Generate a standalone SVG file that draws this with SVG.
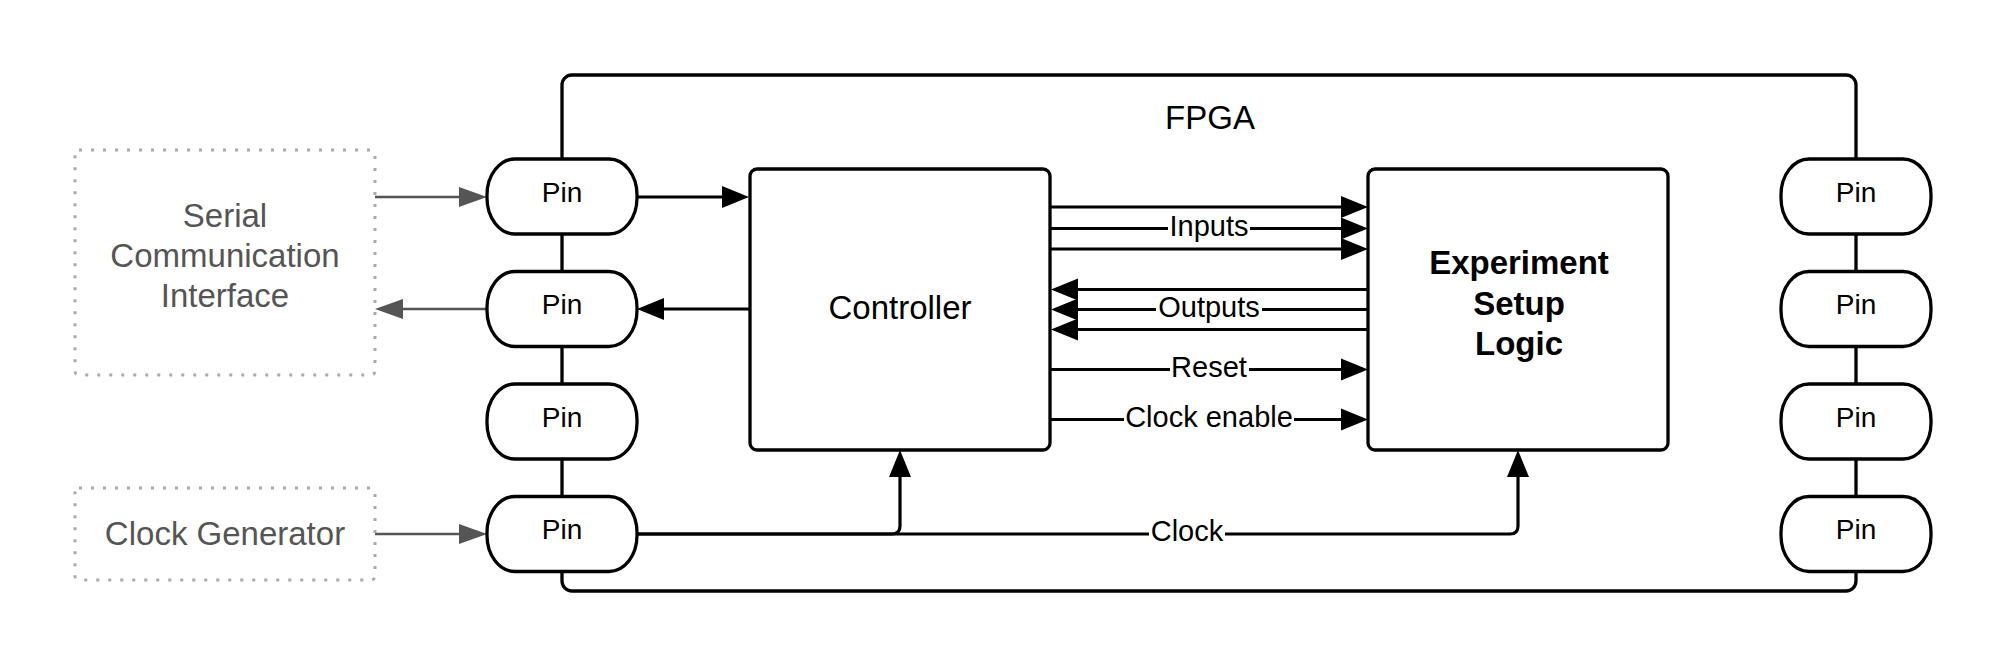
<svg xmlns="http://www.w3.org/2000/svg" width="2006" height="666" viewBox="0 0 2006 666">
<style>
.t{font-family:"Liberation Sans",Arial,sans-serif;text-anchor:middle}
.big{font-size:33px;fill:#000}
.gt{font-size:33px;fill:#555}
.pt{font-size:28px;fill:#000}
.lt{font-size:29px;fill:#000}
.box{fill:#fff;stroke:#000;stroke-width:3.3}
.pin{fill:#fff;stroke:#000;stroke-width:3.3}
.ext{fill:#fff;stroke:#aaa;stroke-width:3;stroke-dasharray:3 9}
.c{fill:none;stroke:#000;stroke-width:3.2}
.cg{fill:none;stroke:#555;stroke-width:2.6}
.lb{fill:#fff}
</style>
<defs>
<marker id="ah" markerUnits="userSpaceOnUse" markerWidth="28" markerHeight="24" viewBox="0 -12 28 24" refX="0" refY="0" orient="auto" overflow="visible">
<path d="M0,-11 L27,0 L0,11 z" fill="#000"/>
</marker>
<marker id="ag" markerUnits="userSpaceOnUse" markerWidth="28" markerHeight="24" viewBox="0 -12 28 24" refX="0" refY="0" orient="auto" overflow="visible">
<path d="M0,-10 L28,0 L0,10 z" fill="#555"/>
</marker>
</defs>
<rect width="2006" height="666" fill="#fff"/>

<g id="fpga">
<rect x="562" y="75" width="1294" height="516" rx="10" fill="none" stroke="#000" stroke-width="3.3"/>
<text class="t big" x="1210" y="129">FPGA</text>
</g>

<g id="connectors">
<path class="cg" d="M375,197 H459" marker-end="url(#ag)"/>
<path class="cg" d="M487,309 H403" marker-end="url(#ag)"/>
<path class="cg" d="M375,534 H459" marker-end="url(#ag)"/>
<path class="c" d="M637,197 H722" marker-end="url(#ah)"/>
<path class="c" d="M749,309 H664" marker-end="url(#ah)"/>
<path class="c" d="M1050,207 H1341" marker-end="url(#ah)"/>
<path class="c" d="M1050,228.5 H1341" marker-end="url(#ah)"/>
<path class="c" d="M1050,249 H1341" marker-end="url(#ah)"/>
<path class="c" d="M1368,289.5 H1078" marker-end="url(#ah)"/>
<path class="c" d="M1368,309.5 H1078" marker-end="url(#ah)"/>
<path class="c" d="M1368,329.5 H1078" marker-end="url(#ah)"/>
<path class="c" d="M1050,369.5 H1341" marker-end="url(#ah)"/>
<path class="c" d="M1050,419.5 H1341" marker-end="url(#ah)"/>
<path class="c" d="M637,534 H892 Q900,534 900,526 V477" marker-end="url(#ah)"/>
<path class="c" d="M637,534 H1510 Q1518,534 1518,526 V477" marker-end="url(#ah)"/>
<rect class="lb" x="1168" y="216" width="82" height="25"/>
<text class="t lt" x="1209" y="236">Inputs</text>
<rect class="lb" x="1156" y="297" width="106" height="25"/>
<text class="t lt" x="1209" y="317">Outputs</text>
<rect class="lb" x="1170" y="357" width="79" height="25"/>
<text class="t lt" x="1209" y="377">Reset</text>
<rect class="lb" x="1124" y="407" width="170" height="25"/>
<text class="t lt" x="1209" y="427">Clock enable</text>
<rect class="lb" x="1149" y="521" width="76" height="25"/>
<text class="t lt" x="1187" y="541">Clock</text>
</g>

<g id="serial">
<rect class="ext" x="75" y="150" width="300" height="225" rx="4"/>
<text class="t gt" x="225" y="227">Serial</text>
<text class="t gt" x="225" y="267">Communication</text>
<text class="t gt" x="225" y="307">Interface</text>
</g>
<g id="clockgen">
<rect class="ext" x="75" y="488" width="300" height="92" rx="4"/>
<text class="t gt" x="225" y="545">Clock Generator</text>
</g>

<g id="controller">
<rect class="box" x="750" y="169" width="300" height="281" rx="7"/>
<text class="t big" x="900" y="319">Controller</text>
</g>
<g id="experiment">
<rect class="box" x="1368" y="169" width="300" height="281" rx="7"/>
<text class="t big" x="1519" y="274" font-weight="bold">Experiment</text>
<text class="t big" x="1519" y="314.5" font-weight="bold">Setup</text>
<text class="t big" x="1519" y="355" font-weight="bold">Logic</text>
</g>

<g id="pin-l1"><rect class="pin" x="487" y="159" width="150" height="75" rx="28" ry="36"/><text class="t pt" x="562" y="201.5">Pin</text></g>
<g id="pin-l2"><rect class="pin" x="487" y="271.5" width="150" height="75" rx="28" ry="36"/><text class="t pt" x="562" y="314">Pin</text></g>
<g id="pin-l3"><rect class="pin" x="487" y="384" width="150" height="75" rx="28" ry="36"/><text class="t pt" x="562" y="426.5">Pin</text></g>
<g id="pin-l4"><rect class="pin" x="487" y="496.5" width="150" height="75" rx="28" ry="36"/><text class="t pt" x="562" y="539">Pin</text></g>
<g id="pin-r1"><rect class="pin" x="1781" y="159" width="150" height="75" rx="28" ry="36"/><text class="t pt" x="1856" y="201.5">Pin</text></g>
<g id="pin-r2"><rect class="pin" x="1781" y="271.5" width="150" height="75" rx="28" ry="36"/><text class="t pt" x="1856" y="314">Pin</text></g>
<g id="pin-r3"><rect class="pin" x="1781" y="384" width="150" height="75" rx="28" ry="36"/><text class="t pt" x="1856" y="426.5">Pin</text></g>
<g id="pin-r4"><rect class="pin" x="1781" y="496.5" width="150" height="75" rx="28" ry="36"/><text class="t pt" x="1856" y="539">Pin</text></g>
</svg>
